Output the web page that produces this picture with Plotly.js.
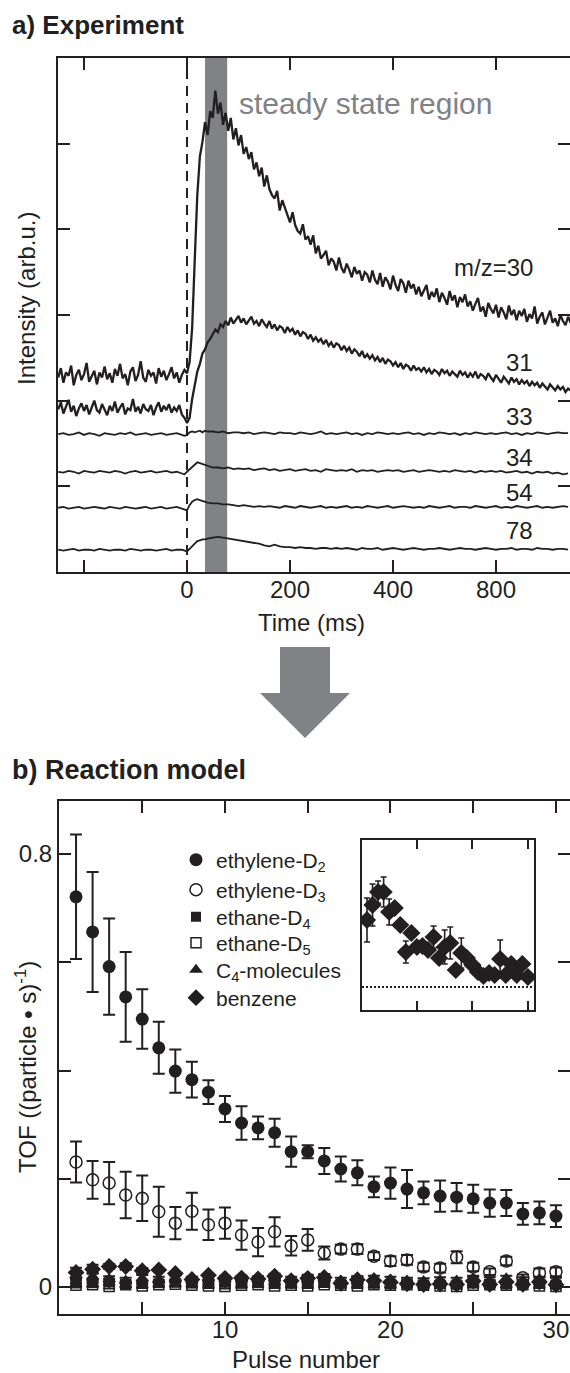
<!DOCTYPE html>
<html><head><meta charset="utf-8">
<script src="https://cdn.plot.ly/plotly-3.0.1.min.js"></script>
<style>html,body{margin:0;padding:0;background:#fff}#chart{width:570px;height:1373px}</style>
</head><body><div id="chart"></div>
<script>
// ---------- panel a) data (time in ms, intensity in arb. units) ----------
// fine time grid for the two strong signals (m/z 30, 31)
const tFine = [-250,-245,-240,-235,-230,-225,-220,-215,-210,-205,-200,-195,-190,-185,-180,-175,-170,-165,-160,-155,
 -150,-145,-140,-135,-130,-125,-120,-115,-110,-105,-100,-95,-90,-85,-80,-75,-70,-65,-60,-55,
 -50,-45,-40,-35,-30,-25,-20,-15,-10,-5,0,5,10,15,20,25,30,35,40,45,
 50,55,60,65,70,75,80,85,90,95,100,105,110,115,120,125,130,135,140,145,
 150,155,160,165,170,175,180,185,190,195,200,205,210,215,220,225,230,235,240,245,
 250,255,260,265,270,275,280,285,290,295,300,305,310,315,320,325,330,335,340,345,
 350,355,360,365,370,375,380,385,390,395,400,405,410,415,420,425,430,435,440,445,
 450,455,460,465,470,475,480,485,490,495,500,505,510,515,520,525,530,535,540,545,
 550,555,560,565,570,575,580,585,590,595,600,605,610,615,620,625,630,635,640,645,
 650,655,660,665,670,675,680,685,690,695,700,705,710,715,720,725,730,735,740,745];
const mz30 = [2.27,2.38,2.21,2.33,2.29,2.41,2.18,2.30,2.36,2.24,2.31,2.44,2.22,2.28,2.35,2.19,2.33,2.27,2.40,2.25,
 2.32,2.21,2.37,2.29,2.43,2.26,2.31,2.18,2.34,2.39,2.23,2.30,2.46,2.27,2.22,2.36,2.29,2.33,2.20,2.38,
 2.28,2.35,2.24,2.31,2.39,2.26,2.33,2.21,2.30,2.36,2.32,2.45,2.85,3.64,4.40,4.85,5.02,5.25,5.10,5.38,
 5.30,5.62,5.35,5.48,5.22,5.36,5.15,5.30,5.05,5.18,4.98,5.10,4.88,4.96,4.82,4.90,4.70,4.78,4.62,4.72,
 4.50,4.63,4.47,4.40,4.36,4.45,4.22,4.34,4.25,4.15,4.08,4.20,4.05,3.98,3.95,4.06,3.88,3.92,3.82,3.93,
 3.72,3.81,3.66,3.70,3.75,3.58,3.66,3.62,3.52,3.67,3.55,3.49,3.60,3.53,3.44,3.56,3.48,3.52,3.40,3.50,
 3.47,3.38,3.52,3.41,3.36,3.49,3.33,3.44,3.39,3.30,3.46,3.35,3.28,3.42,3.37,3.26,3.40,3.31,3.36,3.24,
 3.33,3.22,3.29,3.35,3.18,3.27,3.21,3.31,3.15,3.26,3.20,3.12,3.28,3.17,3.23,3.09,3.21,3.15,3.24,3.10,
 3.16,3.05,3.13,3.20,3.04,3.10,2.98,3.14,3.07,3.02,3.12,2.97,3.09,3.03,2.95,3.11,3.00,3.06,2.94,3.05,
 2.99,3.07,2.92,3.01,2.96,3.10,2.90,2.98,3.03,2.89,2.97,3.05,2.91,2.96,2.87,3.00,2.93,2.88,2.98,2.91];
const mz31 = [1.90,1.98,1.85,1.93,2.01,1.87,1.94,1.82,1.91,1.97,1.88,1.95,1.84,1.92,2.00,1.89,1.86,1.96,1.90,1.83,
 1.94,1.88,1.99,1.86,1.92,1.97,1.84,1.91,1.89,2.02,1.87,1.93,1.85,1.96,1.90,1.88,1.95,1.83,1.92,1.98,
 1.87,1.94,1.89,1.96,1.86,1.92,1.88,1.95,1.84,1.80,1.74,1.80,2.02,2.20,2.34,2.43,2.55,2.60,2.68,2.72,
 2.78,2.83,2.80,2.89,2.86,2.93,2.88,2.97,2.90,2.95,2.99,2.91,2.96,2.89,2.94,2.98,2.90,2.93,2.87,2.95,
 2.90,2.86,2.93,2.84,2.89,2.82,2.87,2.85,2.79,2.86,2.81,2.84,2.77,2.82,2.75,2.80,2.78,2.72,2.77,2.70,
 2.74,2.69,2.72,2.66,2.71,2.64,2.68,2.62,2.67,2.65,2.59,2.64,2.58,2.62,2.55,2.60,2.57,2.52,2.58,2.50,
 2.54,2.49,2.53,2.47,2.51,2.45,2.50,2.43,2.48,2.46,2.41,2.45,2.39,2.44,2.37,2.42,2.40,2.35,2.41,2.36,
 2.38,2.34,2.39,2.33,2.37,2.31,2.36,2.34,2.30,2.37,2.32,2.35,2.29,2.34,2.31,2.28,2.35,2.30,2.33,2.27,
 2.32,2.28,2.34,2.26,2.31,2.29,2.25,2.32,2.27,2.23,2.30,2.26,2.21,2.28,2.24,2.20,2.27,2.22,2.25,2.19,
 2.24,2.20,2.23,2.17,2.22,2.18,2.21,2.15,2.20,2.17,2.13,2.19,2.15,2.12,2.17,2.13,2.16,2.10,2.14,2.12];
// coarser time grid for the weak signals (m/z 33, 34, 54, 78)
const tms = [-250,-240,-230,-220,-210,-200,-190,-180,-170,-160,
 -150,-140,-130,-120,-110,-100,-90,-80,-70,-60,
 -50,-40,-30,-20,-10,-5,0,5,10,15,
 20,25,30,35,40,50,60,70,80,90,
 100,110,120,130,140,150,160,170,180,190,
 200,210,220,230,240,250,260,270,280,290,
 300,310,320,330,340,350,360,370,380,390,
 400,410,420,430,440,450,460,470,480,490,
 500,510,520,530,540,550,560,570,580,590,
 600,610,620,630,640,650,660,670,680,690,
 700,710,720,730,740];
const mz33 = [1.61,1.62,1.60,1.61,1.63,1.60,1.62,1.61,1.59,1.62,
 1.61,1.60,1.62,1.61,1.63,1.60,1.61,1.62,1.60,1.61,
 1.62,1.60,1.61,1.62,1.60,1.59,1.60,1.63,1.64,1.63,
 1.64,1.65,1.63,1.65,1.64,1.64,1.63,1.64,1.62,1.63,
 1.63,1.62,1.63,1.61,1.62,1.63,1.62,1.61,1.63,1.62,
 1.62,1.61,1.63,1.62,1.61,1.62,1.64,1.61,1.62,1.61,
 1.62,1.63,1.61,1.62,1.60,1.62,1.61,1.63,1.62,1.61,
 1.62,1.61,1.62,1.63,1.61,1.62,1.60,1.62,1.61,1.63,
 1.62,1.61,1.62,1.60,1.62,1.61,1.63,1.62,1.61,1.62,
 1.61,1.62,1.63,1.61,1.62,1.60,1.62,1.61,1.63,1.62,
 1.61,1.62,1.63,1.62,1.62];
const mz34 = [1.17,1.16,1.18,1.17,1.15,1.18,1.17,1.16,1.18,1.17,
 1.16,1.18,1.17,1.15,1.17,1.18,1.16,1.17,1.18,1.16,
 1.17,1.18,1.16,1.17,1.15,1.14,1.17,1.20,1.23,1.26,
 1.28,1.27,1.26,1.25,1.24,1.22,1.22,1.21,1.22,1.20,
 1.21,1.20,1.21,1.19,1.20,1.21,1.19,1.20,1.18,1.19,
 1.20,1.18,1.19,1.20,1.18,1.19,1.17,1.20,1.19,1.18,
 1.19,1.18,1.20,1.17,1.19,1.18,1.19,1.17,1.18,1.19,
 1.18,1.19,1.17,1.18,1.19,1.17,1.18,1.19,1.18,1.17,
 1.18,1.17,1.19,1.18,1.17,1.18,1.16,1.18,1.17,1.18,
 1.17,1.18,1.16,1.17,1.18,1.16,1.17,1.15,1.17,1.16,
 1.17,1.15,1.16,1.14,1.15];
const mz54 = [0.75,0.76,0.74,0.75,0.76,0.74,0.75,0.76,0.75,0.74,
 0.76,0.75,0.74,0.76,0.75,0.74,0.75,0.76,0.74,0.75,
 0.76,0.74,0.75,0.76,0.74,0.73,0.72,0.78,0.82,0.84,
 0.85,0.84,0.83,0.82,0.81,0.80,0.80,0.79,0.79,0.78,
 0.77,0.78,0.77,0.76,0.77,0.76,0.77,0.76,0.75,0.77,
 0.76,0.75,0.77,0.76,0.75,0.76,0.77,0.75,0.76,0.75,
 0.76,0.77,0.75,0.76,0.75,0.77,0.76,0.75,0.76,0.77,
 0.75,0.76,0.77,0.76,0.75,0.76,0.75,0.77,0.76,0.75,
 0.76,0.77,0.75,0.76,0.76,0.75,0.77,0.76,0.75,0.76,
 0.77,0.75,0.76,0.75,0.77,0.76,0.75,0.76,0.77,0.75,
 0.76,0.75,0.76,0.77,0.76];
const mz78 = [0.26,0.25,0.26,0.27,0.25,0.26,0.26,0.25,0.27,0.26,
 0.25,0.26,0.26,0.25,0.27,0.26,0.25,0.26,0.26,0.25,
 0.26,0.27,0.25,0.26,0.26,0.25,0.24,0.27,0.30,0.33,
 0.36,0.37,0.38,0.38,0.39,0.40,0.41,0.40,0.39,0.38,
 0.37,0.36,0.35,0.34,0.33,0.31,0.30,0.32,0.30,0.29,
 0.29,0.28,0.29,0.28,0.28,0.27,0.28,0.28,0.27,0.28,
 0.27,0.28,0.27,0.26,0.28,0.27,0.27,0.28,0.26,0.27,
 0.28,0.27,0.26,0.27,0.28,0.27,0.26,0.27,0.27,0.28,
 0.27,0.26,0.27,0.28,0.27,0.27,0.26,0.27,0.28,0.27,
 0.26,0.27,0.27,0.28,0.26,0.27,0.27,0.26,0.28,0.27,
 0.27,0.26,0.27,0.27,0.26];
const massLabels = ["m/z=30","31","33","34","54","78"];
const massLabelY = [3.55,2.45,1.81,1.34,0.93,0.49];
const timeTickVals = [0,200,400,600];
const timeTickText = ["0","200","400","800"];
const timeMinorTicks = [-200];
const intensityTicks = [1,2,3,4,5];
const steadyStart = 35, steadyEnd = 78;

// ---------- panel b) data ----------
const pulses = [1,2,3,4,5,6,7,8,9,10,11,12,13,14,15,16,17,18,19,20,21,22,23,24,25,26,27,28,29,30];
const ethyleneD2 = [0.721,0.656,0.592,0.536,0.495,0.442,0.399,0.383,0.360,0.329,0.303,0.294,0.285,0.250,0.250,0.233,0.218,0.211,0.185,0.192,0.181,0.174,0.168,0.166,0.163,0.155,0.155,0.135,0.137,0.131];
const ethyleneD2Err = [0.115,0.111,0.089,0.083,0.055,0.048,0.040,0.033,0.022,0.024,0.031,0.021,0.026,0.028,0.012,0.024,0.023,0.023,0.019,0.029,0.035,0.021,0.029,0.026,0.026,0.025,0.024,0.020,0.021,0.020];
const ethyleneD3 = [0.231,0.198,0.192,0.170,0.164,0.139,0.118,0.140,0.115,0.118,0.096,0.083,0.102,0.076,0.087,0.063,0.070,0.070,0.057,0.048,0.050,0.037,0.035,0.055,0.037,0.028,0.048,0.017,0.026,0.028];
const ethyleneD3Err = [0.038,0.035,0.039,0.043,0.042,0.046,0.030,0.034,0.028,0.029,0.027,0.026,0.027,0.018,0.020,0.012,0.008,0.009,0.007,0.009,0.009,0.008,0.008,0.011,0.008,0.006,0.008,0.006,0.008,0.008];
const ethaneD4 = [0.008,0.007,0.009,0.005,0.006,0.007,0.008,0.007,0.006,0.008,0.006,0.007,0.009,0.006,0.007,0.008,0.006,0.007,0.006,0.005,0.006,0.004,0.006,0.005,0.007,0.006,0.005,0.006,0.007,0.005];
const ethaneD4Err = [0.006,0.005,0.006,0.005,0.006,0.005,0.006,0.005,0.005,0.006,0.005,0.005,0.006,0.005,0.006,0.005,0.005,0.006,0.005,0.005,0.005,0.005,0.005,0.005,0.006,0.005,0.005,0.005,0.006,0.005];
const ethaneD5 = [0.003,0.004,0.001,0.004,0.002,0.004,0.005,0.003,0.002,0.001,0.003,0.004,0.002,0.003,0.002,0.004,0.003,0.002,0.004,0.003,0.004,0.003,0.002,0.001,0.003,0.004,0.003,0.004,0.002,0.001];
const ethaneD5Err = [0.004,0.004,0.004,0.004,0.004,0.004,0.004,0.004,0.004,0.004,0.004,0.004,0.004,0.004,0.004,0.004,0.004,0.004,0.004,0.004,0.004,0.004,0.004,0.004,0.004,0.004,0.004,0.004,0.004,0.004];
const c4Molecules = [0.022,0.020,0.015,0.012,0.016,0.014,0.016,0.014,0.018,0.015,0.016,0.015,0.017,0.014,0.015,0.016,0.012,0.015,0.016,0.014,0.012,0.011,0.013,0.012,0.015,0.013,0.016,0.013,0.014,0.012];
const c4Err = [0.007,0.006,0.005,0.005,0.006,0.005,0.005,0.005,0.006,0.005,0.005,0.005,0.006,0.005,0.005,0.006,0.005,0.005,0.005,0.005,0.005,0.005,0.005,0.005,0.006,0.005,0.005,0.005,0.005,0.005];
const benzene = [0.0268,0.0328,0.038,0.038,0.030,0.0316,0.0248,0.014,0.0216,0.016,0.0164,0.0148,0.020,0.0116,0.016,0.0176,0.0068,0.0136,0.0116,0.0088,0.006,0.0044,0.0056,0.0048,0.0112,0.0048,0.0092,0.0048,0.0092,0.004];
const benzeneErr = [0.0088,0.0084,0.0044,0.006,0.0052,0,0,0.0044,0,0,0,0,0.0044,0,0.0068,0.0064,0,0.006,0,0,0,0,0,0,0.0076,0,0,0,0,0];
const seriesNames = ["ethylene-D<sub>2</sub>","ethylene-D<sub>3</sub>","ethane-D<sub>4</sub>","ethane-D<sub>5</sub>","C<sub>4</sub>-molecules","benzene"];
const pulseTickVals = [10,20,30];
const pulseTickText = ["10","20","30"];
const pulseMinorTicks = [5,15,25];
const tofTickVals = [0,0.8];
const tofTickText = ["0","0.8"];
const tofMinorTicks = [0.2,0.4,0.6];
const insetTicks = [10,20,30];

// ---------- styling ----------
const W = 570, H = 1373;
const FONT = "Liberation Sans, Arial, Helvetica, sans-serif";
const INK = "#231f20";
const GREY = "#808285";
const PX = x => x / W;
const PY = y => 1 - y / H;

const minor = (vals, len) => ({tickmode:"array", tickvals:vals, ticks:"inside", ticklen:len||12, tickwidth:2, tickcolor:INK, showgrid:false});
const axBase = {showline:true, linewidth:2, linecolor:INK, mirror:"ticks", ticks:"inside",
  ticklen:12, tickwidth:2, tickcolor:INK, showgrid:false, zeroline:false,
  tickfont:{family:FONT, size:24, color:INK}};

const traces = [];
const lineTr = (x, y, w) => ({x:x, y:y, type:"scatter", mode:"lines", xaxis:"x", yaxis:"y",
  line:{color:INK, width:w}, showlegend:false, hoverinfo:"skip"});
traces.push(lineTr(tms, mz78, 1.8), lineTr(tms, mz54, 1.8), lineTr(tms, mz34, 1.8), lineTr(tms, mz33, 1.8),
  lineTr(tFine, mz31, 2.3), lineTr(tFine, mz30, 2.3));

const errOpt = (arr, w, t) => ({type:"data", array:arr, visible:true, color:INK, thickness:t||2, width:w||6});
const ptTr = (name, y, err, sym, size, leg, lw) => ({x:pulses, y:y, type:"scatter", mode:"markers",
  name:name, legend:leg, xaxis:"x2", yaxis:"y2",
  marker:{symbol:sym, size:size, color:INK, line:{color:INK, width:lw||0}},
  error_y:errOpt(err, 6, 2), showlegend:true});
traces.push(ptTr(seriesNames[3], ethaneD5, ethaneD5Err, "square-open", 10, "legend4", 1.5));
traces.push(ptTr(seriesNames[2], ethaneD4, ethaneD4Err, "square", 10, "legend3"));
traces.push(ptTr(seriesNames[4], c4Molecules, c4Err, "triangle-up", 12, "legend5"));
traces.push(ptTr(seriesNames[5], benzene, benzeneErr, "diamond", 13, "legend6"));
traces.push(ptTr(seriesNames[1], ethyleneD3, ethyleneD3Err, "circle-open", 12, "legend2", 1.5));
traces.push(ptTr(seriesNames[0], ethyleneD2, ethyleneD2Err, "circle", 13, "legend"));

// inset: benzene
traces.push({x:pulses, y:benzene, type:"scatter", mode:"markers", xaxis:"x3", yaxis:"y3",
  marker:{symbol:"diamond", size:14, color:INK}, error_y:errOpt(benzeneErr, 3, 1.6),
  showlegend:false, hoverinfo:"skip"});

const ann = [];
const txt = (text, x, y, opts) => Object.assign({text:text, x:PX(x), y:PY(y), xref:"paper", yref:"paper",
  showarrow:false, font:{family:FONT, size:24, color:INK}}, opts||{});
ann.push(txt("<b>a) Experiment</b>", 10, 25, {xanchor:"left", yanchor:"middle", font:{family:FONT, size:26, color:INK}}));
ann.push(txt("<b>b) Reaction model</b>", 10, 770, {xanchor:"left", yanchor:"middle", font:{family:FONT, size:27, color:INK}}));
ann.push(txt("Intensity (arb.u.)", 26, 299, {textangle:-90, xanchor:"center", yanchor:"middle"}));
ann.push(txt("Time (ms)", 311, 622, {xanchor:"center", yanchor:"middle"}));
ann.push(txt("TOF ((particle <b>\u2022</b> s)<sup>-1</sup>)", 26, 1067, {textangle:-90, xanchor:"center", yanchor:"middle"}));
ann.push(txt("Pulse number", 306, 1359, {xanchor:"center", yanchor:"middle", borderpad:0}));
massLabels.forEach((m, i) => ann.push({text:m, x:676, y:massLabelY[i], xref:"x", yref:"y", xanchor:"right", yanchor:"middle",
  showarrow:false, font:{family:FONT, size:24, color:INK}}));
ann.push({text:"steady state region", x:97, y:5.47, xref:"x", yref:"y", xanchor:"left", yanchor:"middle",
  showarrow:false, font:{family:FONT, size:30, color:GREY}});

const arrowPath = "M" + PX(280) + "," + PY(647) + " L" + PX(330) + "," + PY(647) + " L" + PX(330) + "," + PY(693) +
  " L" + PX(350) + "," + PY(693) + " L" + PX(305) + "," + PY(738) + " L" + PX(260) + "," + PY(693) +
  " L" + PX(280) + "," + PY(693) + " Z";

const shapes = [
  {type:"rect", xref:"x", yref:"y", x0:steadyStart, x1:steadyEnd, y0:0, y1:6, fillcolor:GREY, line:{width:0}, layer:"below"},
  {type:"line", xref:"x", yref:"y", x0:0, x1:0, y0:0, y1:6, line:{color:INK, width:2, dash:"10px,7px"}, layer:"above"},
  {type:"path", xref:"paper", yref:"paper", path:arrowPath, fillcolor:GREY, line:{width:0}},
  {type:"line", xref:"x3 domain", yref:"y3", x0:0, x1:1, y0:0, y1:0, line:{color:INK, width:2, dash:"2px,2px"}}
];

const legendRows = [860, 890, 917, 943, 970, 998];
const legOpt = row => ({x:PX(176), y:PY(row), xanchor:"left", yanchor:"middle", bgcolor:"rgba(0,0,0,0)",
  borderwidth:0, font:{family:FONT, size:21, color:INK}, itemwidth:30});

const layout = {
  width:W, height:H, margin:{l:0, r:0, t:0, b:0}, paper_bgcolor:"#fff", plot_bgcolor:"#fff",
  font:{family:FONT, color:INK},
  xaxis:Object.assign({}, axBase, {domain:[PX(58), 1], range:[-250.5, 743.7], anchor:"y",
    tickmode:"array", tickvals:timeTickVals, ticktext:timeTickText, minor:minor(timeMinorTicks), ticklabelstandoff:-5}),
  yaxis:Object.assign({}, axBase, {domain:[PY(572), PY(58)], range:[0, 6], anchor:"x",
    tickmode:"array", tickvals:[], showticklabels:false, minor:minor(intensityTicks)}),
  xaxis2:Object.assign({}, axBase, {domain:[PX(59), 1], range:[-0.03, 30.85], anchor:"y2",
    tickmode:"array", tickvals:pulseTickVals, ticktext:pulseTickText, minor:minor(pulseMinorTicks), ticklabelstandoff:-7}),
  yaxis2:Object.assign({}, axBase, {domain:[PY(1314), PY(801)], range:[-0.0499, 0.898], anchor:"x2",
    tickmode:"array", tickvals:tofTickVals, ticktext:tofTickText, minor:minor(tofMinorTicks)}),
  xaxis3:Object.assign({}, axBase, {domain:[PX(362), PX(534)], range:[0.1, 31.1], anchor:"y3",
    tickmode:"array", tickvals:[], showticklabels:false, minor:minor(insetTicks, 9)}),
  yaxis3:Object.assign({}, axBase, {domain:[PY(1010), PY(840)], range:[-0.0092, 0.0588], anchor:"x3",
    ticks:"", tickvals:[], showticklabels:false, mirror:true}),
  showlegend:true,
  legend:legOpt(legendRows[0]), legend2:legOpt(legendRows[1]), legend3:legOpt(legendRows[2]),
  legend4:legOpt(legendRows[3]), legend5:legOpt(legendRows[4]), legend6:legOpt(legendRows[5]),
  annotations:ann, shapes:shapes
};

Plotly.newPlot("chart", traces, layout, {staticPlot:true, displayModeBar:false});
</script>
</body></html>
